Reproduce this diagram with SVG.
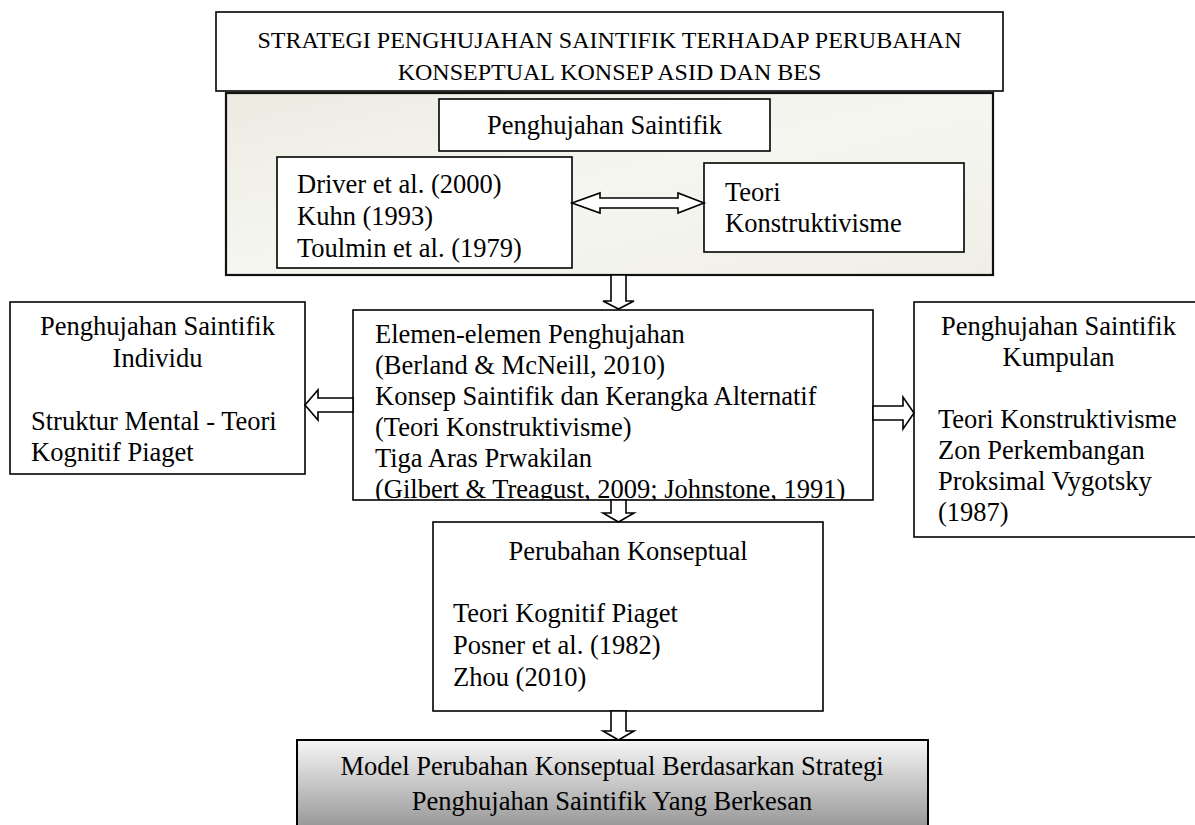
<svg xmlns="http://www.w3.org/2000/svg" width="1195" height="825" viewBox="0 0 1195 825">
<style>
.t{font-family:"Liberation Serif","Times New Roman",serif;font-size:26.5px;fill:#000}
.ti{font-family:"Liberation Serif","Times New Roman",serif;font-size:24px;fill:#000}
.c{text-anchor:middle}
.box{fill:#fff;stroke:#000;stroke-width:1.6}
.arr{fill:#fff;stroke:#000;stroke-width:1.6;stroke-linejoin:miter}
</style>
<defs>
<linearGradient id="gbg" x1="0" y1="0" x2="1" y2="1">
<stop offset="0" stop-color="#ecebe2"/>
<stop offset="0.5" stop-color="#f6f6f1"/>
<stop offset="1" stop-color="#efeee6"/>
</linearGradient>
<linearGradient id="mg" x1="0" y1="0" x2="0" y2="1">
<stop offset="0" stop-color="#f6f6f6"/>
<stop offset="1" stop-color="#8a8a8a"/>
</linearGradient>
<clipPath id="clipE"><rect x="353" y="310" width="520" height="190"/></clipPath>
<clipPath id="clipL"><rect x="10" y="302" width="295" height="172"/></clipPath>
</defs>
<rect width="1195" height="825" fill="#fff"/>

<g id="title">
<rect x="216" y="12" width="787" height="79" class="box" stroke-width="2"/>
<text class="ti c" x="609.5" y="48">STRATEGI PENGHUJAHAN SAINTIFIK TERHADAP PERUBAHAN</text>
<text class="ti c" x="609.5" y="80">KONSEPTUAL KONSEP ASID DAN BES</text>
</g>

<g id="penghujahan-group">
<rect x="226" y="93" width="767" height="182" fill="url(#gbg)" stroke="#111" stroke-width="2.2"/>
</g>

<g id="penghujahan-saintifik">
<rect x="439" y="99" width="331" height="52" class="box"/>
<text class="t c" x="604.5" y="134">Penghujahan Saintifik</text>
</g>

<g id="rujukan">
<rect x="277" y="157" width="295" height="111" class="box"/>
<text class="t" x="297" y="193">Driver et al. (2000)</text>
<text class="t" x="297" y="225">Kuhn (1993)</text>
<text class="t" x="297" y="257">Toulmin et al. (1979)</text>
</g>

<g id="teori-konstruktivisme">
<rect x="704" y="163" width="260" height="89" class="box"/>
<text class="t" x="725" y="201">Teori</text>
<text class="t" x="725" y="232">Konstruktivisme</text>
</g>

<g id="individu">
<rect x="10" y="302" width="295" height="172" class="box"/>
<g clip-path="url(#clipL)">
<text class="t c" x="157.5" y="335">Penghujahan Saintifik</text>
<text class="t c" x="157.5" y="367">Individu</text>
<text class="t" x="31" y="430">Struktur Mental - Teori</text>
<text class="t" x="31" y="461">Kognitif Piaget</text>
</g>
</g>

<g id="elemen">
<rect x="353" y="310" width="520" height="190" class="box"/>
<g clip-path="url(#clipE)">
<text class="t" x="375" y="343">Elemen-elemen Penghujahan</text>
<text class="t" x="375" y="374">(Berland &amp; McNeill, 2010)</text>
<text class="t" x="375" y="405">Konsep Saintifik dan Kerangka Alternatif</text>
<text class="t" x="375" y="436">(Teori Konstruktivisme)</text>
<text class="t" x="375" y="467">Tiga Aras Prwakilan</text>
<text class="t" x="375" y="498">(Gilbert &amp; Treagust, 2009; Johnstone, 1991)</text>
</g>
</g>

<g id="kumpulan">
<rect x="914" y="302" width="290" height="235" class="box"/>
<text class="t c" x="1058.5" y="335">Penghujahan Saintifik</text>
<text class="t c" x="1058.5" y="366">Kumpulan</text>
<text class="t" x="938" y="428">Teori Konstruktivisme</text>
<text class="t" x="938" y="459">Zon Perkembangan</text>
<text class="t" x="938" y="490">Proksimal Vygotsky</text>
<text class="t" x="938" y="521">(1987)</text>
</g>

<g id="perubahan-konseptual">
<rect x="433" y="522" width="390" height="189" class="box"/>
<text class="t c" x="628" y="560">Perubahan Konseptual</text>
<text class="t" x="453" y="622">Teori Kognitif Piaget</text>
<text class="t" x="453" y="654">Posner et al. (1982)</text>
<text class="t" x="453" y="686">Zhou (2010)</text>
</g>

<g id="model">
<rect x="297" y="740" width="631" height="100" fill="url(#mg)" stroke="#000" stroke-width="2"/>
<text class="t c" x="612" y="775">Model Perubahan Konseptual Berdasarkan Strategi</text>
<text class="t c" x="612" y="810">Penghujahan Saintifik Yang Berkesan</text>
</g>

<g id="connectors">
<polygon class="arr" points="600,193 600,198 678,198 678,193 704,203 678,213 678,208 600,208 600,213 572,203"/>
<polygon class="arr" points="611,275 626,275 626,301 634,301 618.5,309 603,301 611,301"/>
<polygon class="arr" points="353,398 318,398 318,390 305,405 318,420 318,412 353,412"/>
<polygon class="arr" points="873,406 903,406 903,397 914,413 903,429 903,420 873,420"/>
<polygon class="arr" points="611,500 626,500 626,513 634,513 618.5,522 603,513 611,513"/>
<polygon class="arr" points="611,711 626,711 626,731 634,731 618.5,740 603,731 611,731"/>
</g>
</svg>
